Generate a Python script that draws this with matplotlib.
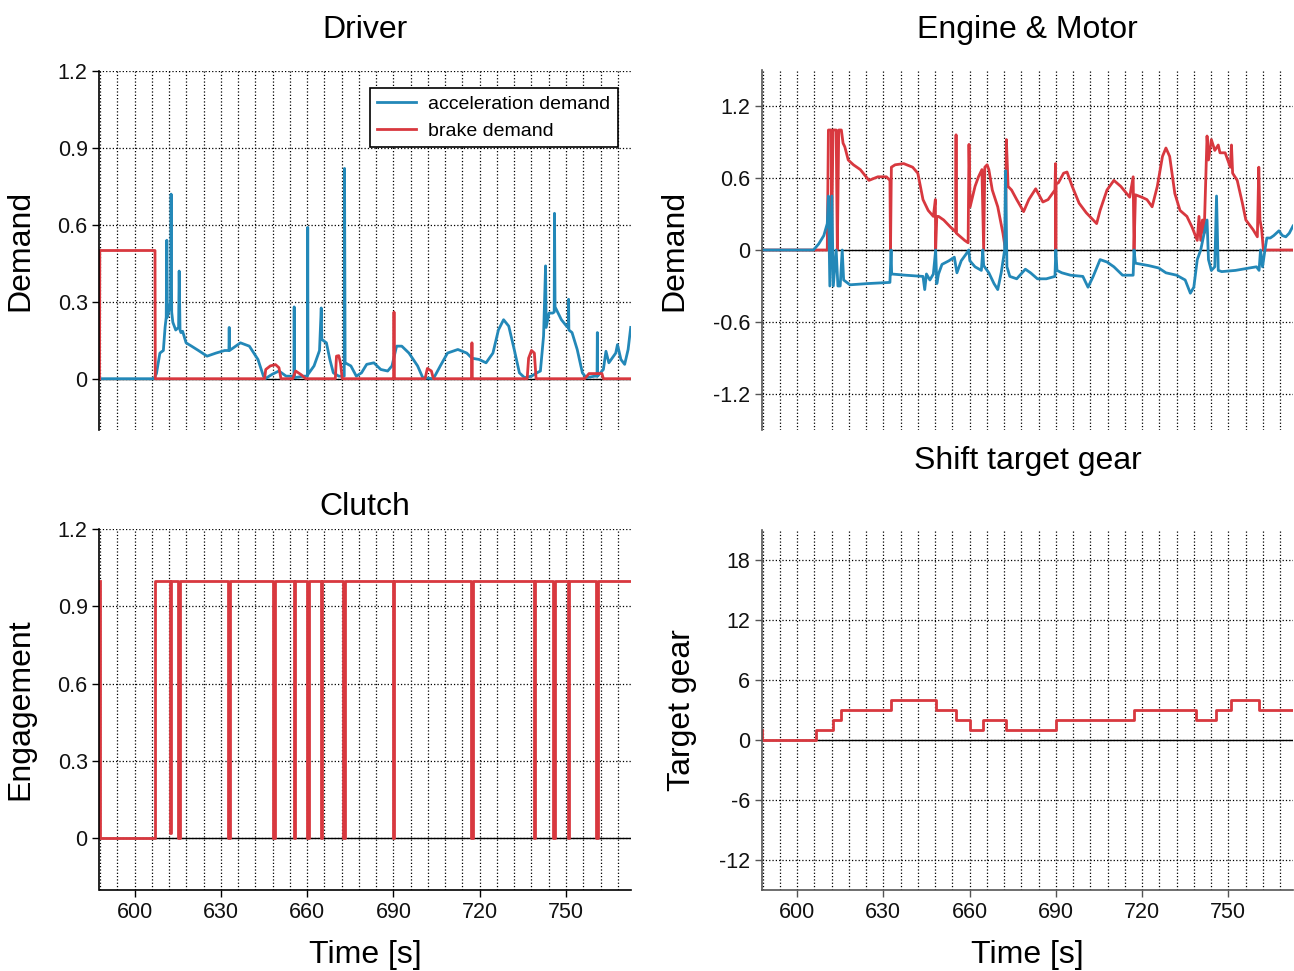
import numpy as np
import matplotlib
matplotlib.use("Agg")
import matplotlib.pyplot as plt
from matplotlib.ticker import MultipleLocator, FuncFormatter

plt.rcParams['font.family'] = ['Liberation Sans', 'DejaVu Sans']
plt.rcParams['axes.unicode_minus'] = False

# =============================================================================
# data
# =============================================================================

t_start, t_end = 587.8, 772.5

# Driver: acceleration demand
acc_t = [587.8, 606.7, 607.6, 608.8, 610.0, 610.6, 611.0, 611.2, 611.4, 611.8,
         612.5, 612.7, 612.9, 613.3, 614.3, 615.3, 615.5, 615.8, 616.1, 616.7,
         617.9, 619.8, 622.2, 625.2, 628.3, 631.3, 632.8, 632.9, 633.0, 636.8,
         639.9, 642.9, 644.8, 645.4, 647.8, 650.2, 652.7, 654.5, 655.4, 655.5,
         655.6, 658.8, 660.1, 660.2, 660.3, 662.4, 664.3, 664.9, 665.1, 666.7,
         667.9, 669.1, 671.0, 672.9, 673.0, 673.2, 675.2, 677.1, 678.9, 680.7,
         683.2, 685.6, 688.0, 689.5, 691.1, 692.9, 695.4, 698.4, 700.2, 703.9,
         706.3, 708.8, 712.4, 715.5, 717.3, 719.8, 722.2, 724.6, 726.5, 728.3,
         730.1, 732.0, 733.8, 735.6, 738.0, 739.9, 741.1, 742.2, 742.9, 743.1,
         744.1, 745.4, 745.9, 746.0, 746.2, 748.4, 750.2, 750.8, 750.9, 751.0,
         752.1, 753.9, 755.7, 757.0, 760.0, 760.8, 760.9, 761.0, 763.0, 763.9,
         764.9, 767.3, 767.9, 769.1, 770.4, 771.6, 772.5]
acc_v = [0.0, 0.0, 0.02, 0.10, 0.11, 0.20, 0.24, 0.54, 0.24, 0.26,
         0.30, 0.72, 0.26, 0.22, 0.19, 0.20, 0.42, 0.19, 0.18, 0.185,
         0.14, 0.127, 0.11, 0.088, 0.10, 0.11, 0.11, 0.20, 0.11, 0.14,
         0.127, 0.075, 0.01, 0.0, 0.017, 0.03, 0.01, 0.01, 0.01, 0.28,
         0.004, 0.01, 0.01, 0.59, 0.017, 0.05, 0.11, 0.276, 0.153, 0.14,
         0.075, 0.023, 0.01, 0.01, 0.82, 0.062, 0.05, 0.01, 0.023, 0.056,
         0.062, 0.036, 0.03, 0.05, 0.127, 0.127, 0.10, 0.05, 0.004, 0.0,
         0.05, 0.10, 0.114, 0.10, 0.08, 0.075, 0.062, 0.10, 0.19, 0.23,
         0.205, 0.114, 0.023, 0.004, 0.01, 0.023, 0.03, 0.166, 0.44, 0.20,
         0.256, 0.256, 0.26, 0.645, 0.28, 0.23, 0.205, 0.20, 0.31, 0.19,
         0.18, 0.114, 0.023, 0.004, 0.01, 0.01, 0.18, 0.01, 0.036, 0.107,
         0.062, 0.10, 0.133, 0.075, 0.056, 0.114, 0.20]

# Driver: brake demand
brk_t = [587.8, 587.9, 607.1, 607.2, 645.2, 645.6, 647.2, 649.0, 650.2, 650.9,
         655.0, 656.0, 658.0, 659.5, 669.8, 670.2, 671.0, 671.6, 672.2, 690.1,
         690.2, 690.3, 701.0, 701.8, 703.2, 703.9, 717.2, 717.3, 717.4, 736.5,
         737.0, 738.0, 739.0, 739.6, 756.5, 758.0, 762.5, 763.0, 772.5]
brk_v = [0.0, 0.5, 0.5, 0.0, 0.0, 0.036, 0.05, 0.055, 0.043, 0.0,
         0.0, 0.03, 0.015, 0.0, 0.0, 0.088, 0.09, 0.06, 0.0, 0.0,
         0.26, 0.0, 0.0, 0.04, 0.03, 0.0, 0.0, 0.14, 0.0, 0.0,
         0.08, 0.11, 0.10, 0.0, 0.0, 0.02, 0.02, 0.0, 0.0]

# Engine & Motor: engine (red)
eng_t = [587.8, 610.5, 610.9, 611.9, 612.0, 612.5, 613.6, 614.0, 614.5, 615.4,
         616.0, 616.6, 617.8, 619.6, 622.0, 625.0, 628.1, 631.1, 632.3, 632.5,
         632.8, 634.1, 637.1, 640.2, 642.0, 643.8, 645.6, 647.4, 648.1, 648.2,
         648.6, 649.2, 651.0, 652.2, 653.4, 655.2, 655.3, 655.4, 658.3, 659.5,
         659.8, 660.2, 661.9, 663.1, 664.3, 664.9, 665.3, 666.1, 666.7, 667.9,
         669.8, 671.6, 672.5, 672.8, 673.4, 674.6, 676.4, 678.8, 680.6, 683.0,
         685.5, 687.3, 689.7, 689.9, 690.0, 690.1, 690.9, 692.7, 693.9, 695.7,
         698.1, 700.6, 703.0, 704.2, 705.4, 707.8, 710.2, 712.6, 715.7, 716.9,
         717.2, 717.7, 719.9, 721.7, 723.5, 725.3, 727.1, 728.3, 729.6, 731.4,
         733.2, 735.6, 737.4, 739.2, 739.8, 740.4, 741.0, 741.6, 742.6, 743.1,
         744.1, 745.3, 746.5, 747.1, 748.9, 750.7, 751.1, 751.5, 753.1, 754.9,
         756.1, 758.6, 760.1, 760.6, 761.0, 761.6, 762.2, 772.5]
eng_v = [0.0, 0.0, 1.0, 1.0, 0.0, 1.0, 1.0, 0.0, 1.0, 1.0,
         0.89, 0.86, 0.75, 0.71, 0.67, 0.58, 0.61, 0.61, 0.58, 0.0,
         0.69, 0.71, 0.72, 0.69, 0.64, 0.42, 0.33, 0.28, 0.42, 0.0,
         0.28, 0.28, 0.25, 0.22, 0.19, 0.15, 0.96, 0.14, 0.08, 0.06,
         0.88, 0.36, 0.53, 0.61, 0.67, 0.0, 0.69, 0.71, 0.67, 0.50,
         0.36, 0.14, 0.0, 0.92, 0.53, 0.50, 0.42, 0.32, 0.42, 0.51,
         0.40, 0.42, 0.50, 0.72, 0.0, 0.55, 0.56, 0.64, 0.65, 0.53,
         0.39, 0.31, 0.25, 0.22, 0.33, 0.50, 0.58, 0.53, 0.44, 0.61,
         0.0, 0.46, 0.44, 0.42, 0.36, 0.53, 0.78, 0.85, 0.78, 0.47,
         0.33, 0.28, 0.19, 0.08, 0.28, 0.08, 0.25, 0.14, 0.95, 0.75,
         0.92, 0.83, 0.875, 0.81, 0.81, 0.69, 0.875, 0.64, 0.58, 0.39,
         0.25, 0.17, 0.11, 0.69, 0.25, 0.17, 0.0, 0.0]

# Engine & Motor: motor (blue)
mot_t = [587.8, 605.7, 607.5, 609.3, 610.5, 610.9, 611.4, 612.1, 612.6, 613.6,
         614.2, 615.0, 615.7, 616.2, 618.4, 624.4, 632.3, 632.7, 632.9, 637.7,
         643.8, 644.4, 645.0, 646.2, 647.4, 648.2, 648.6, 649.2, 650.4, 652.8,
         654.7, 655.6, 657.1, 658.9, 659.7, 660.1, 661.9, 664.1, 664.6, 664.9,
         666.7, 668.5, 669.8, 671.0, 672.2, 672.5, 673.0, 674.0, 676.4, 679.4,
         681.2, 683.6, 686.7, 689.7, 690.0, 690.4, 692.1, 695.1, 699.4, 701.2,
         703.0, 705.4, 707.8, 710.2, 713.2, 716.9, 717.2, 717.7, 722.3, 725.8,
         728.3, 732.0, 735.0, 736.8, 738.0, 739.2, 740.4, 741.6, 742.6, 743.1,
         744.1, 745.3, 745.9, 746.5, 747.7, 752.5, 757.3, 759.8, 760.7, 761.2,
         761.9, 762.8, 763.4, 764.6, 765.8, 767.6, 768.8, 770.0, 771.2, 772.5]
mot_v = [0.0, 0.0, 0.05, 0.12, 0.22, 0.45, -0.30, 0.45, -0.30, 0.0,
         -0.30, -0.30, 0.0, -0.25, -0.29, -0.28, -0.27, 0.0, -0.20, -0.21,
         -0.22, -0.33, -0.20, -0.25, -0.20, 0.0, -0.28, -0.20, -0.12, -0.09,
         -0.06, -0.19, -0.09, -0.03, 0.0, -0.09, -0.14, -0.17, 0.0, -0.13,
         -0.19, -0.28, -0.33, -0.19, 0.0, 0.66, -0.14, -0.22, -0.24, -0.16,
         -0.19, -0.24, -0.24, -0.22, 0.0, -0.17, -0.19, -0.21, -0.22, -0.31,
         -0.22, -0.08, -0.10, -0.14, -0.21, -0.21, 0.0, -0.11, -0.13, -0.15,
         -0.19, -0.21, -0.25, -0.36, -0.31, -0.08, 0.0, 0.14, 0.25, -0.08,
         -0.17, -0.14, 0.45, -0.17, -0.18, -0.17, -0.15, -0.14, -0.17, 0.0,
         -0.14, 0.01, 0.10, 0.10, 0.12, 0.16, 0.12, 0.11, 0.14, 0.20]

# Clutch engagement (step changes)
clu_t = [587.8, 587.9, 607.1, 612.3, 612.8, 615.2, 615.7, 632.6, 633.2, 648.2,
         648.7, 655.3, 655.8, 660.0, 660.5, 664.7, 665.2, 672.6, 673.1, 689.8,
         690.3, 717.1, 717.6, 738.8, 739.3, 745.6, 746.1, 750.7, 751.2, 760.6,
         761.1, 772.5]
clu_v = [1.0, 0.0, 1.0, 0.02, 1.0, 0.0, 1.0, 0.0, 1.0, 0.0,
         1.0, 0.0, 1.0, 0.0, 1.0, 0.0, 1.0, 0.0, 1.0, 0.0,
         1.0, 0.0, 1.0, 0.0, 1.0, 0.0, 1.0, 0.0, 1.0, 0.0,
         1.0, 1.0]

# Shift target gear (step changes)
gear_t = [587.8, 587.9, 606.5, 612.5, 615.3, 632.7, 648.4, 655.4, 660.1, 664.8,
          672.7, 689.9, 717.2, 738.9, 745.7, 750.8, 760.8, 772.5]
gear_v = [1, 0, 1, 2, 3, 4, 3, 2, 1, 2,
          1, 2, 3, 2, 3, 4, 3, 3]

# =============================================================================
# figure
# =============================================================================

BLUE = '#2388b8'
RED = '#d8383f'
W, H = 1294, 971
LW = 2.0

fig = plt.figure(figsize=(W / 100, H / 100), dpi=100)


def make_ax(x0, x1, y0, y1):
    return fig.add_axes([x0 / W, 1 - y1 / H, (x1 - x0) / W, (y1 - y0) / H])


ax_drv = make_ax(99.5, 630.7, 71, 430)
ax_eng = make_ax(762, 1293, 70, 430)
ax_clu = make_ax(99.5, 630.7, 529, 890)
ax_gear = make_ax(762, 1293, 530.5, 890)

fmt = FuncFormatter(lambda v, p: '%g' % round(v, 6))

for ax, yl, yt, bottom_row, sc in [
        (ax_drv, (-0.2, 1.2), [0, 0.3, 0.6, 0.9, 1.2], False, 'black'),
        (ax_eng, (-1.5, 1.5), [-1.2, -0.6, 0, 0.6, 1.2], False, '#555555'),
        (ax_clu, (-0.2, 1.2), [0, 0.3, 0.6, 0.9, 1.2], True, 'black'),
        (ax_gear, (-15, 21), [-12, -6, 0, 6, 12, 18], True, '#555555')]:
    ax.set_xlim(t_start, t_end)
    ax.set_ylim(*yl)
    ax.set_yticks(yt)
    ax.yaxis.set_major_formatter(fmt)
    ax.xaxis.set_major_locator(MultipleLocator(30))
    ax.xaxis.set_minor_locator(MultipleLocator(6))
    ax.spines['top'].set_visible(False)
    ax.spines['right'].set_visible(False)
    ax.spines['left'].set_color(sc)
    ax.spines['bottom'].set_color(sc)
    ax.spines['left'].set_linewidth(1.2)
    ax.spines['bottom'].set_linewidth(1.2)
    ax.tick_params(axis='both', which='major', direction='out', length=5,
                   width=1, labelsize=15.5, colors=sc, labelcolor='#111111')
    ax.tick_params(axis='x', which='minor', length=0)
    ax.grid(True, axis='x', which='both', linestyle=':', color='black',
            linewidth=0.9)
    ax.grid(True, axis='y', which='major', linestyle=':', color='black',
            linewidth=0.9)
    ax.axhline(0, color='black', linewidth=1.0, zorder=1.5)
    if not bottom_row:
        ax.spines['bottom'].set_visible(False)
        ax.tick_params(axis='x', which='both', length=0, labelbottom=False)
    else:
        ax.set_xlabel('Time [s]', fontsize=23)
        ax.xaxis.set_label_coords(0.5, -0.138)

# Driver
ax_drv.plot(acc_t, acc_v, color=BLUE, linewidth=LW, label='acceleration demand')
ax_drv.plot(brk_t, brk_v, color=RED, linewidth=LW, label='brake demand')
ax_drv.set_ylabel('Demand', fontsize=23)
ax_drv.yaxis.set_label_coords(-0.12, 0.5)
ax_drv.text(0.5, 1.115, 'Driver', transform=ax_drv.transAxes,
            ha='center', va='center', fontsize=23)
leg = ax_drv.legend(loc='upper right', bbox_to_anchor=(0.976, 0.953),
                    fontsize=14, frameon=True, fancybox=False,
                    edgecolor='black', framealpha=1, handlelength=2.0,
                    borderpad=0.4, labelspacing=0.45, handletextpad=0.6,
                    borderaxespad=0)
leg.get_frame().set_linewidth(1.2)

# Engine & Motor
ax_eng.plot(eng_t, eng_v, color=RED, linewidth=LW)
ax_eng.plot(mot_t, mot_v, color=BLUE, linewidth=LW)
ax_eng.set_ylabel('Demand', fontsize=23)
ax_eng.yaxis.set_label_coords(-0.136, 0.5)
ax_eng.text(0.5, 1.112, 'Engine & Motor', transform=ax_eng.transAxes,
            ha='center', va='center', fontsize=23)

# Clutch
ax_clu.plot(clu_t, clu_v, color=RED, linewidth=LW, drawstyle='steps-post')
ax_clu.set_ylabel('Engagement', fontsize=23)
ax_clu.yaxis.set_label_coords(-0.12, 0.5)
ax_clu.text(0.5, 1.06, 'Clutch', transform=ax_clu.transAxes,
            ha='center', va='center', fontsize=23)

# Shift target gear
ax_gear.plot(gear_t, gear_v, color=RED, linewidth=LW, drawstyle='steps-post')
ax_gear.set_ylabel('Target gear', fontsize=23)
ax_gear.yaxis.set_label_coords(-0.123, 0.5)
ax_gear.text(0.5, 1.192, 'Shift target gear', transform=ax_gear.transAxes,
             ha='center', va='center', fontsize=23)

fig.savefig('out.png', dpi=100)
